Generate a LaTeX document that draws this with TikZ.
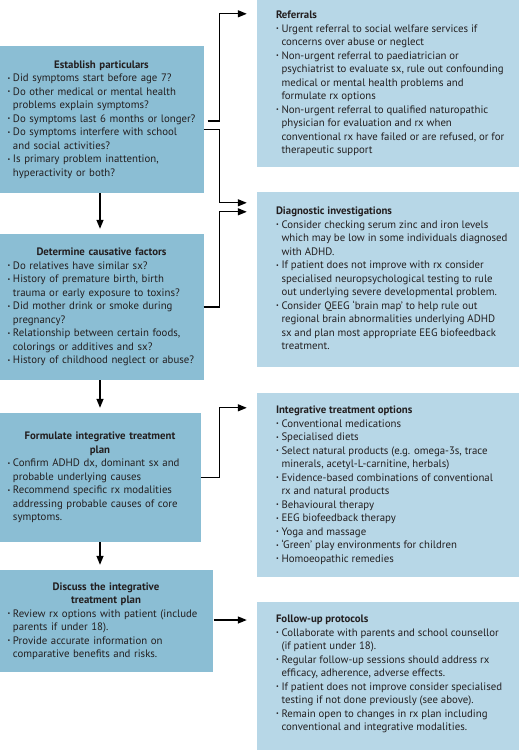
\documentclass[tikz,border=0pt]{standalone}
\usepackage{fontspec}
\setmainfont{PT Sans}
\usetikzlibrary{arrows.meta,calc}
\definecolor{darkbox}{RGB}{139,190,212}
\definecolor{lightbox}{RGB}{183,215,231}
\definecolor{txt}{RGB}{35,31,32}
\newcommand{\bul}{\makebox[5.5pt][l]{\raisebox{1.3pt}{\fontsize{6}{6}\selectfont •}}}
\newcommand{\cnt}{\hspace*{5.5pt}}
\begin{document}
\begin{tikzpicture}[x=1pt,y=-1pt,
  leftbox/.style={fill=darkbox,draw=none,inner xsep=8pt,inner ysep=0pt,font=\fontsize{10.8}{13.5}\selectfont,text=txt},
  rightbox/.style={fill=lightbox,draw=none,inner sep=0pt,minimum width=262pt},
  righttext/.style={anchor=west,inner sep=0pt,align=left,font=\fontsize{10.8}{13.5}\selectfont,text=txt},
  arr/.style={line width=1.3pt,-{Triangle[length=9pt,width=7pt]}}]
\useasboundingbox (0,0) rectangle (519,750);
% left boxes
\node[leftbox,text width=188pt,minimum width=203pt,minimum height=147pt] (b1) at (101.5,119.5)
 {{\centering\textbf{Establish particulars}\par}\raggedright
  \bul Did symptoms start before age 7?\\
  \bul Do other medical or mental health\\
  \cnt problems explain symptoms?\\
  \bul Do symptoms last 6 months or longer?\\
  \bul Do symptoms interfere with school\\
  \cnt and social activities?\\
  \bul Is primary problem inattention,\\
  \cnt hyperactivity or both?\par};
\node[leftbox,text width=188pt,minimum width=203pt,minimum height=146pt] (b2) at (101.5,307)
 {{\centering\textbf{Determine causative factors}\par}\raggedright
  \bul Do relatives have similar sx?\\
  \bul History of premature birth, birth\\
  \cnt trauma or early exposure to toxins?\\
  \bul Did mother drink or smoke during\\
  \cnt pregnancy?\\
  \bul Relationship between certain foods,\\
  \cnt colorings or additives and sx?\\
  \bul History of childhood neglect or abuse?\par};
\node[leftbox,text width=185pt,minimum width=200pt,minimum height=129pt] (b3) at (100,477.5)
 {{\centering\textbf{Formulate integrative treatment}\\\textbf{plan}\par}\raggedright
  \bul Confirm ADHD dx, dominant sx and\\
  \cnt probable underlying causes\\
  \bul Recommend specific rx modalities\\
  \cnt addressing probable causes of core\\
  \cnt symptoms.\par};
\node[leftbox,text width=197pt,minimum width=212pt,minimum height=102pt] (b4) at (106,621)
 {{\centering\textbf{Discuss the integrative}\\\textbf{treatment plan}\par}\raggedright
  \bul Review rx options with patient (include\\
  \cnt parents if under 18).\\
  \bul Provide accurate information on\\
  \cnt comparative benefits and risks.\par};
% right boxes
\node[rightbox,minimum height=167pt] (r1) at (388,83.5) {};
\node[righttext] (r1t) at ([xshift=19pt]r1.west)
 {\textbf{Referrals}\\
  \bul Urgent referral to social welfare services if\\
  \cnt concerns over abuse or neglect\\
  \bul Non-urgent referral to paediatrician or\\
  \cnt psychiatrist to evaluate sx, rule out confounding\\
  \cnt medical or mental health problems and\\
  \cnt formulate rx options\\
  \bul Non-urgent referral to qualified naturopathic\\
  \cnt physician for evaluation and rx when\\
  \cnt conventional rx have failed or are refused, or for\\
  \cnt therapeutic support};
\node[rightbox,minimum height=175pt] (r2) at (388,279.5) {};
\node[righttext] (r2t) at ([xshift=19pt,yshift=1pt]r2.west)
 {\textbf{Diagnostic investigations}\\
  \bul Consider checking serum zinc and iron levels\\
  \cnt which may be low in some individuals diagnosed\\
  \cnt with ADHD.\\
  \bul If patient does not improve with rx consider\\
  \cnt specialised neuropsychological testing to rule\\
  \cnt out underlying severe developmental problem.\\
  \bul Consider QEEG `brain map' to help rule out\\
  \cnt regional brain abnormalities underlying ADHD\\
  \cnt sx and plan most appropriate EEG biofeedback\\
  \cnt treatment.};
\node[rightbox,minimum height=184pt] (r3) at (388,485) {};
\node[righttext] (r3t) at ([xshift=19pt]r3.west)
 {\textbf{Integrative treatment options}\\
  \bul Conventional medications\\
  \bul Specialised diets\\
  \bul Select natural products (e.g. omega-3s, trace\\
  \cnt minerals, acetyl-L-carnitine, herbals)\\
  \bul Evidence-based combinations of conventional\\
  \cnt rx and natural products\\
  \bul Behavioural therapy\\
  \bul EEG biofeedback therapy\\
  \bul Yoga and massage\\
  \bul `Green' play environments for children\\
  \bul Homoeopathic remedies};
\node[rightbox,minimum height=148pt] (r4) at (388,676) {};
\node[righttext] (r4t) at ([xshift=19pt,yshift=2pt]r4.west)
 {\textbf{Follow-up protocols}\\
  \bul Collaborate with parents and school counsellor\\
  \cnt (if patient under 18).\\
  \bul Regular follow-up sessions should address rx\\
  \cnt efficacy, adherence, adverse effects.\\
  \bul If patient does not improve consider specialised\\
  \cnt testing if not done previously (see above).\\
  \bul Remain open to changes in rx plan including\\
  \cnt conventional and integrative modalities.};
% vertical arrows
\draw[arr,shorten >=5pt] ([xshift=-1.5pt]b1.south) -- ([xshift=-1.5pt]b1.south |- b2.north);
\draw[arr,shorten >=5pt] ([xshift=-1.5pt]b2.south) -- ([xshift=-1.5pt]b2.south |- b3.north);
\draw[arr,shorten >=5pt] (b3.south) -- (b3.south |- b4.north);
% side arrows
\draw[arr] ([xshift=4pt,yshift=-1.5pt]b1.east) -- ++(12,0) |- ([xshift=-10pt,yshift=-14pt]r1.north west);
\draw[arr] ([yshift=-10pt]b1.east) -- ++(16,0) |- ([xshift=-10pt,yshift=-11pt]r2.north west);
\draw[arr] (b2.east) -- ++(16,0) |- ([xshift=-10pt,yshift=-20pt]r2.north west);
\draw[arr] (b3.east) -- ++(19,0) |- ([xshift=-10pt,yshift=-15pt]r3.north west);
\draw[arr] ([xshift=1pt,yshift=1pt]b4.east) -- ([xshift=-10pt,yshift=1pt]b4.east -| r4.west);
\end{tikzpicture}
\end{document}
